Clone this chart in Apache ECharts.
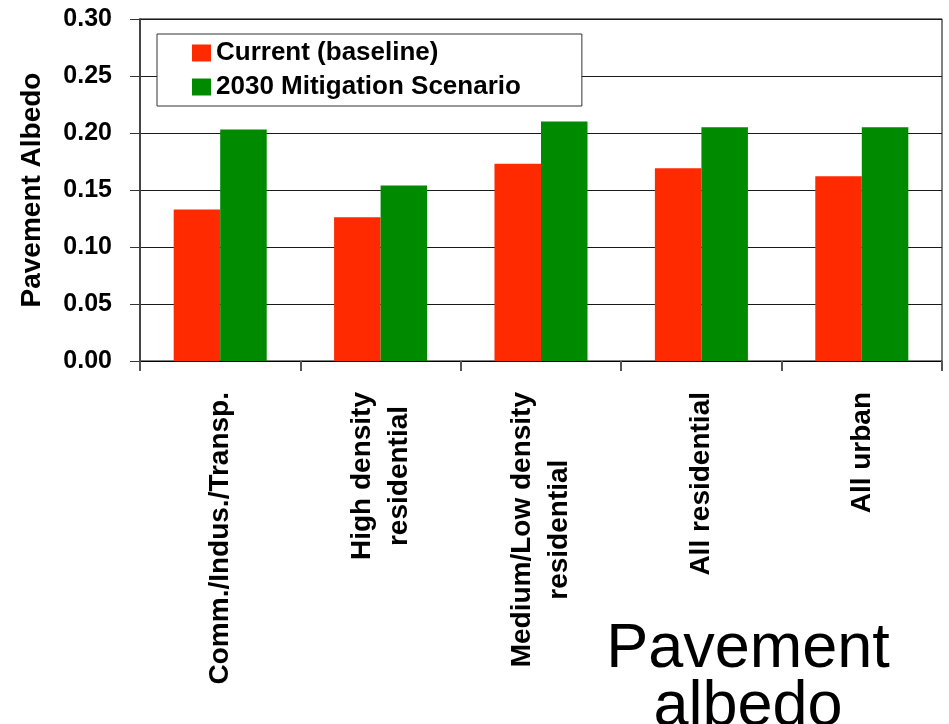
<!DOCTYPE html>
<html>
<head>
<meta charset="utf-8">
<script src="https://cdn.jsdelivr.net/npm/echarts@6/dist/echarts.min.js"></script>
<style>
  html, body { margin: 0; padding: 0; background: #ffffff; }
  #chart { width: 949px; height: 724px; }
</style>
</head>
<body>
<div id="chart"></div>
<script>
// Land-use categories (line breaks mark wrapped labels)
const categories = [
  'Comm./Indus./Transp.',
  'High density\nresidential',
  'Medium/Low density\nresidential',
  'All residential',
  'All urban'
];

// Pavement albedo per category
const currentBaseline = [0.133, 0.126, 0.173, 0.169, 0.162];
const mitigation2030 = [0.203, 0.154, 0.210, 0.205, 0.205];

const seriesNames = ['Current (baseline)', '2030 Mitigation Scenario'];

// Value axis range
const yMin = 0;
const yMax = 0.30;
const yStep = 0.05;

const FONT = '"Liberation Sans", Arial, Helvetica, sans-serif';

const chart = echarts.init(document.getElementById('chart'), null, { renderer: 'canvas' });

chart.setOption({
  backgroundColor: '#ffffff',
  animation: false,
  textStyle: { fontFamily: FONT },
  grid: {
    left: 140,
    right: 7,
    top: 19,
    bottom: 363,
    show: true,
    borderColor: '#000000',
    borderWidth: 1,
    backgroundColor: 'transparent',
    containLabel: false
  },
  legend: {
    orient: 'vertical',
    left: 157,
    top: 34,
    padding: [6, 61, 6, 35],
    itemGap: 8,
    itemWidth: 19,
    itemHeight: 17,
    icon: 'rect',
    backgroundColor: '#ffffff',
    borderColor: '#333333',
    borderWidth: 1,
    borderRadius: 0,
    textStyle: {
      fontFamily: FONT,
      fontSize: 26,
      fontWeight: 'bold',
      color: '#000000',
      lineHeight: 26
    },
    data: seriesNames
  },
  xAxis: {
    type: 'category',
    data: categories,
    boundaryGap: true,
    axisLine: { show: true, lineStyle: { color: '#000000', width: 1 } },
    axisTick: { show: true, length: 10, alignWithLabel: false, lineStyle: { color: '#555555', width: 2 } },
    axisLabel: {
      interval: 0,
      rotate: 90,
      margin: 31,
      formatter: function (v) {
        return v.split('\n').map(function (s) { return '{c|' + s + '}'; }).join('\n');
      },
      rich: {
        c: {
          align: 'center',
          fontFamily: FONT,
          fontSize: 28,
          fontWeight: 'bold',
          color: '#000000',
          lineHeight: 37
        }
      }
    },
    splitLine: { show: false }
  },
  yAxis: {
    type: 'value',
    min: yMin,
    max: yMax,
    interval: yStep,
    name: 'Pavement Albedo',
    nameLocation: 'middle',
    nameGap: 94,
    nameTextStyle: {
      fontFamily: FONT,
      fontSize: 28,
      fontWeight: 'bold',
      color: '#000000'
    },
    axisLine: { show: true, lineStyle: { color: '#444444', width: 2 } },
    axisTick: { show: true, length: 10, inside: false, lineStyle: { color: '#333333', width: 1 } },
    axisLabel: {
      margin: 28,
      fontFamily: FONT,
      fontSize: 25,
      fontWeight: 'bold',
      color: '#000000',
      formatter: function (v) { return v.toFixed(2); }
    },
    splitLine: { show: true, lineStyle: { color: '#1a1a1a', width: 1 } }
  },
  series: [
    {
      name: seriesNames[0],
      type: 'bar',
      data: currentBaseline,
      barGap: '0%',
      barCategoryGap: '42%',
      itemStyle: { color: '#ff2a00' }
    },
    {
      name: seriesNames[1],
      type: 'bar',
      data: mitigation2030,
      barGap: '0%',
      barCategoryGap: '42%',
      itemStyle: { color: '#008a00' }
    }
  ],
  graphic: [
    {
      type: 'text',
      x: 748,
      y: 621,
      style: {
        text: 'Pavement\nalbedo',
        align: 'center',
        verticalAlign: 'top',
        fontFamily: FONT,
        fontSize: 63,
        fontWeight: 'normal',
        lineHeight: 58,
        fill: '#000000'
      }
    }
  ]
});
</script>
</body>
</html>
